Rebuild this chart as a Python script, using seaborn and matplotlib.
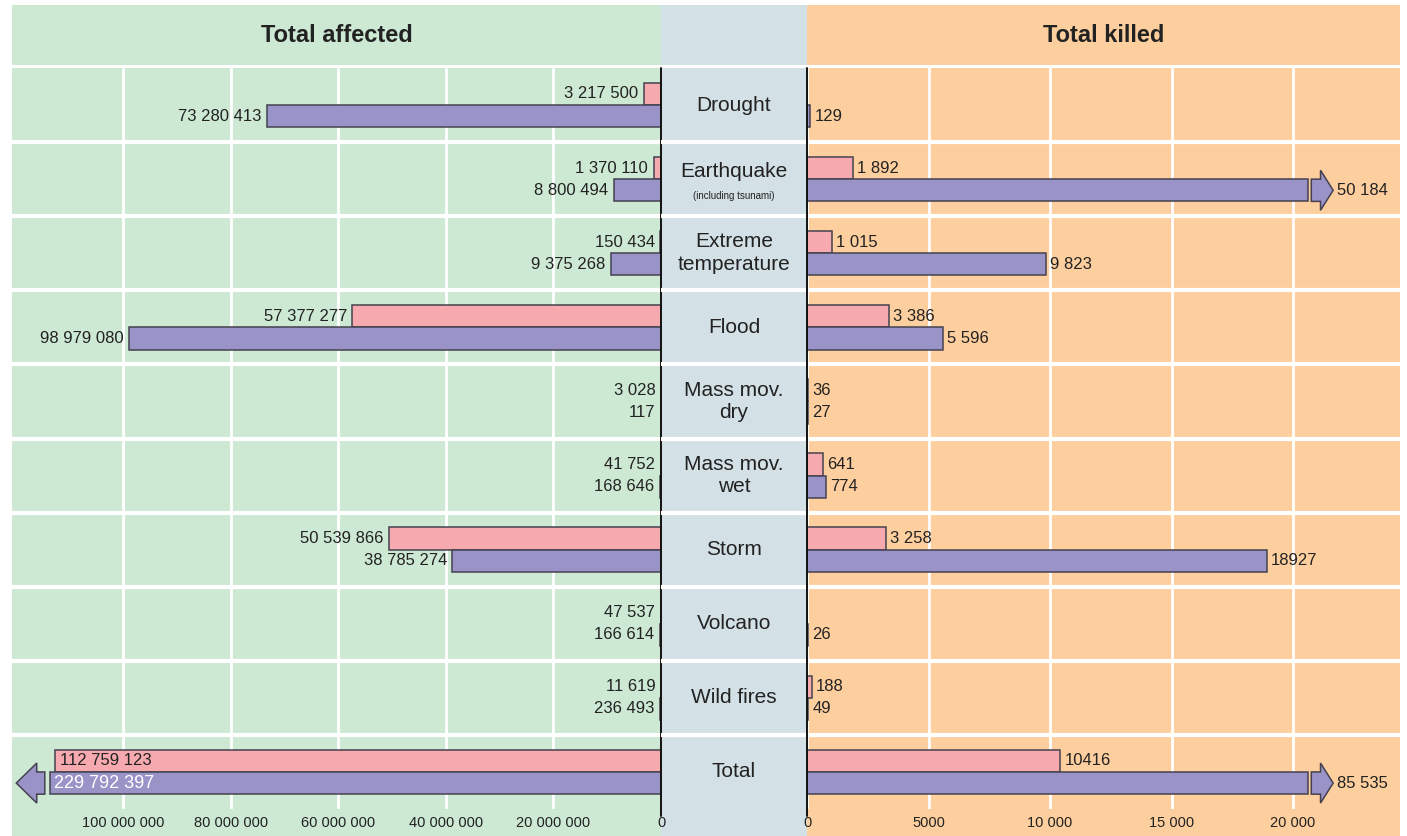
import numpy as np
import pandas as pd
import matplotlib
matplotlib.use("Agg")
import matplotlib.pyplot as plt
import matplotlib.transforms as mtransforms
from matplotlib.patches import Rectangle, Polygon
import seaborn as sns

# ---------------- data ----------------
categories = ["Drought", "Earthquake", "Extreme temperature", "Flood",
              "Mass mov. dry", "Mass mov. wet", "Storm", "Volcano",
              "Wild fires", "Total"]
category_labels = ["Drought", "Earthquake", "Extreme\ntemperature", "Flood",
                   "Mass mov.\ndry", "Mass mov.\nwet", "Storm", "Volcano",
                   "Wild fires", "Total"]
category_notes = ["", "(including tsunami)", "", "", "", "", "", "", "", ""]
series = ["Series A", "Series B"]  # pink (top), purple (bottom)

affected_a = [3217500, 1370110, 150434, 57377277, 3028, 41752, 50539866,
              47537, 11619, 112759123]
affected_b = [73280413, 8800494, 9375268, 98979080, 117, 168646, 38785274,
              166614, 236493, 229792397]
killed_a = [0, 1892, 1015, 3386, 36, 641, 3258, 0, 188, 10416]
killed_b = [129, 50184, 9823, 5596, 27, 774, 18927, 26, 49, 85535]

affected_ticks = [0, 20000000, 40000000, 60000000, 80000000, 100000000]
affected_tick_labels = ["0", "20 000 000", "40 000 000", "60 000 000",
                        "80 000 000", "100 000 000"]
killed_ticks = [0, 5000, 10000, 15000, 20000]
killed_tick_labels = ["0", "5000", "10 000", "15 000", "20 000"]
header_left = "Total affected"
header_right = "Total killed"
ungrouped_labels = [18927, 10416]

# ---------------- style ----------------
GREEN = "#CDE8D3"
BLUE = "#D3E0E5"
ORANGE = "#FECF9E"
PINK = "#F6A9AE"
PURPLE = "#9A93C8"
EDGE = "#45424F"
TXT = "#222222"

sns.set_style("white")
plt.rcParams["font.family"] = ["Liberation Sans", "DejaVu Sans"]

W, H = 1407, 836
fig = plt.figure(figsize=(W / 100, H / 100), dpi=100)
fig.patch.set_facecolor("white")


def fx(px):
    return px / W


def fy(py):
    return 1 - py / H


x_left, x_zl, x_zr, x_right = 12, 661, 807, 1400
head_top, head_bot, body_top, body_bot = 5, 65, 68, 809

# backgrounds
for x0, x1, c in [(x_left, x_zl, GREEN), (x_zl, x_zr, BLUE), (x_zr, x_right, ORANGE)]:
    fig.add_artist(Rectangle((fx(x0), fy(H)), fx(x1) - fx(x0), fy(head_top) - fy(H),
                             transform=fig.transFigure, facecolor=c,
                             edgecolor="none", zorder=-3))
fig.add_artist(Rectangle((fx(x_left), fy(body_top)), fx(x_right) - fx(x_left),
                         fy(head_bot) - fy(body_top), transform=fig.transFigure,
                         facecolor="white", edgecolor="none", zorder=-2))

fig.text(fx((x_left + x_zl) / 2), fy(36), header_left, ha="center", va="center",
         fontsize=17, fontweight="bold", color=TXT)
fig.text(fx((x_zr + x_right) / 2), fy(36), header_right, ha="center", va="center",
         fontsize=17, fontweight="bold", color=TXT)


def make_ax(x0, x1):
    ax = fig.add_axes([fx(x0), fy(body_bot), fx(x1) - fx(x0), fy(body_top) - fy(body_bot)])
    ax.set_facecolor("none")
    for s in ax.spines.values():
        s.set_visible(False)
    return ax


axL = make_ax(x_left, x_zl)
axM = make_ax(x_zl, x_zr)
axR = make_ax(x_zr, x_right)

n = len(categories)
AFF_LIM = 120.7e6
KIL_LIM = 24400
AFF_CAP = 113.6e6
KIL_CAP = 20600


def long_df(a, b, cap):
    df = pd.DataFrame({
        "category": categories * 2,
        "series": [series[0]] * n + [series[1]] * n,
        "value": list(a) + list(b),
    })
    df["plot_value"] = np.minimum(df["value"], cap)
    return df


df_aff = long_df(affected_a, affected_b, AFF_CAP)
df_kil = long_df(killed_a, killed_b, KIL_CAP)

for ax, df in [(axL, df_aff), (axR, df_kil)]:
    sns.barplot(data=df, y="category", x="plot_value", hue="series",
                order=categories, hue_order=series, orient="h",
                palette=[PINK, PURPLE], saturation=1, width=0.6, errorbar=None,
                edgecolor=EDGE, linewidth=1.1, legend=False, ax=ax, zorder=3)
    ax.set_ylabel("")
    ax.set_xlabel("")
    ax.set_yticks([])
    ax.set_ylim(n - 0.5, -0.5)

axL.set_xlim(AFF_LIM, 0)
axR.set_xlim(0, KIL_LIM)
axM.set_xlim(0, 1)
axM.set_ylim(n - 0.5, -0.5)
axM.set_xticks([])
axM.set_yticks([])

axL.set_xticks(affected_ticks)
axL.set_xticklabels(affected_tick_labels)
axR.set_xticks(killed_ticks)
axR.set_xticklabels(killed_tick_labels)
for ax in (axL, axR):
    ax.tick_params(axis="x", length=0, pad=5, labelsize=10.5, labelcolor=TXT)
    ax.grid(axis="x", color="white", linewidth=2, zorder=1)
    ax.grid(axis="y", visible=False)
    ax.set_axisbelow(True)

for ax in (axL, axM, axR):
    for i in range(n - 1):
        ax.axhline(i + 0.5, color="white", linewidth=3, zorder=2)

# black zero lines
for ax in (axL, axR):
    tr = mtransforms.blended_transform_factory(ax.transData, ax.transAxes)
    ax.plot([0, 0], [-0.01, 1.0], transform=tr, color="#111111", linewidth=1.4,
            clip_on=False, zorder=5)

# category labels
for i, (lab, note) in enumerate(zip(category_labels, category_notes)):
    if note:
        axM.text(0.5, i - 0.1, lab, ha="center", va="center", fontsize=15, color=TXT)
        axM.text(0.5, i + 0.23, note, ha="center", va="center", fontsize=7, color=TXT)
    else:
        axM.text(0.5, i, lab, ha="center", va="center", fontsize=15,
                 color=TXT, linespacing=1.25)


def fmt(v):
    if v in ungrouped_labels:
        return str(int(v))
    return f"{int(v):,}".replace(",", " ")


def draw_arrow(ax, yc, cap, gap, body, head, bh=0.15, hh=0.27):
    s = cap + gap
    h = s + body
    tip = h + head
    pts = [(s, yc - bh), (h, yc - bh), (h, yc - hh), (tip, yc), (h, yc + hh),
           (h, yc + bh), (s, yc + bh)]
    ax.add_patch(Polygon(pts, closed=True, facecolor=PURPLE, edgecolor=EDGE,
                         linewidth=1.1, zorder=4, clip_on=False))
    return tip


fig.canvas.draw()
renderer = fig.canvas.get_renderer()

VFS = 12

# affected labels (left panel, inverted axis)
for k, vals in enumerate([affected_a, affected_b]):
    for i, v in enumerate(vals):
        yc = i + (-0.15 if k == 0 else 0.15)
        if v > AFF_CAP:
            draw_arrow(axL, yc, AFF_CAP, 1.0e6, 1.5e6, 3.8e6)
            axL.annotate(fmt(v), xy=(AFF_CAP, yc), xytext=(3, 0),
                         textcoords="offset points", ha="left", va="center",
                         fontsize=13, color="white", zorder=6)
            continue
        if v <= 0:
            continue
        t = axL.annotate(fmt(v), xy=(v, yc), xytext=(-4, 0), textcoords="offset points",
                         ha="right", va="center", fontsize=VFS, color=TXT, zorder=6)
        bb = t.get_window_extent(renderer)
        if bb.x0 < axL.get_window_extent(renderer).x0:
            t.set_position((4, 0))
            t.set_ha("left")

# killed labels (right panel)
for k, vals in enumerate([killed_a, killed_b]):
    for i, v in enumerate(vals):
        yc = i + (-0.15 if k == 0 else 0.15)
        if v <= 0:
            continue
        x = v
        if v > KIL_CAP:
            x = draw_arrow(axR, yc, KIL_CAP, 150, 380, 520)
        axR.annotate(fmt(v), xy=(x, yc), xytext=(3, 0), textcoords="offset points",
                     ha="left", va="center", fontsize=VFS, color=TXT, zorder=6)

fig.savefig("out.png", dpi=100)
